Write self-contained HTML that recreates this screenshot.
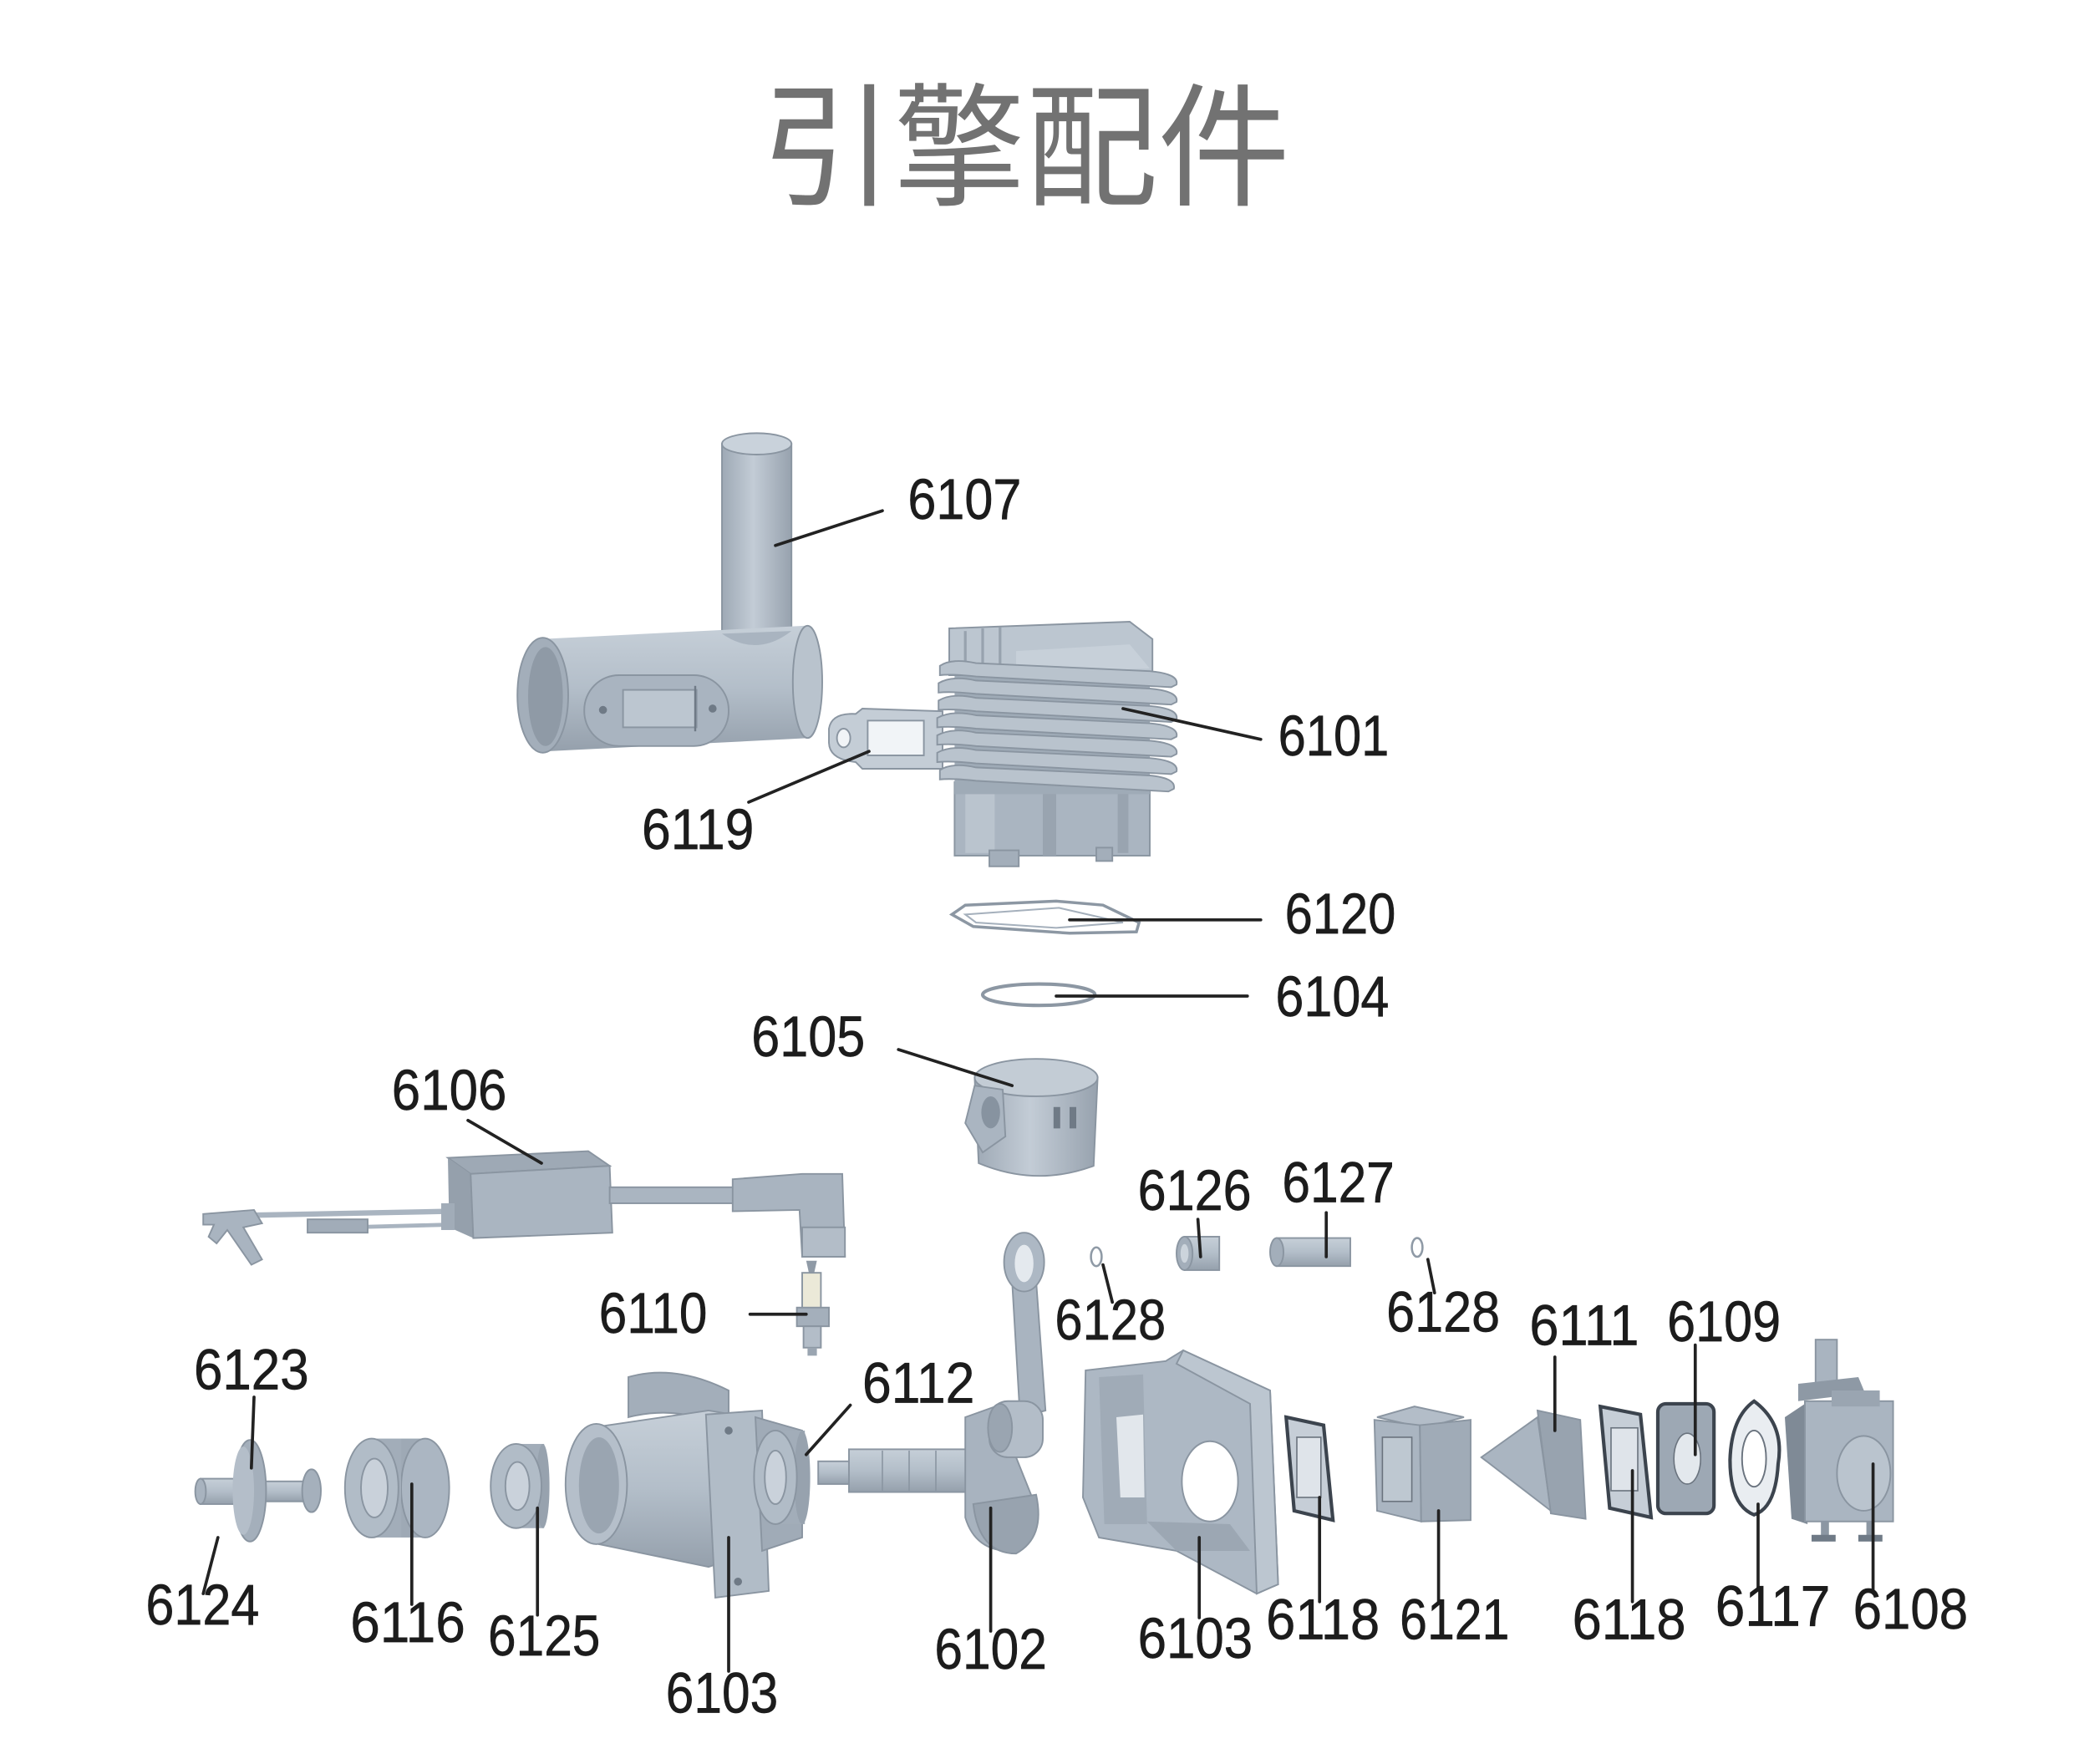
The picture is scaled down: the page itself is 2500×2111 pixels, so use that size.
<!DOCTYPE html>
<html><head><meta charset="utf-8"><style>
html,body{margin:0;padding:0;background:#fff;}
svg{display:block;}
.l{font-family:"Liberation Sans",Arial,sans-serif;font-size:43px;fill:#1c1c1c;stroke:#1c1c1c;stroke-width:0.4;}
.ld{stroke:#222;stroke-width:2.3;fill:none;stroke-linecap:round;}
.o{stroke:#8a95a1;stroke-width:1.2;}
.g{stroke:#3c444e;stroke-width:2.6;}
</style></head><body>
<svg width="2500" height="2111" viewBox="0 0 1562.5 1319.4" xmlns="http://www.w3.org/2000/svg">
<defs>
<linearGradient id="cv" x1="0" y1="0" x2="1" y2="0"><stop offset="0" stop-color="#9ea9b5"/><stop offset="0.45" stop-color="#c3ccd6"/><stop offset="1" stop-color="#97a2ae"/></linearGradient>
<linearGradient id="ch" x1="0" y1="0" x2="0" y2="1"><stop offset="0" stop-color="#c6cfd8"/><stop offset="0.5" stop-color="#b3bec9"/><stop offset="1" stop-color="#95a0ac"/></linearGradient>
</defs>
<rect width="1562.5" height="1319.4" fill="#fff"/>

<!-- Title -->
<text x="767" y="146" text-anchor="middle" font-family="'Liberation Sans','Noto Sans CJK SC','Noto Sans CJK TC',sans-serif" font-size="100" fill="#727272" textLength="396" lengthAdjust="spacingAndGlyphs">引擎配件</text>

<!-- 6107 muffler -->
<rect x="540" y="332" width="52" height="150" fill="url(#cv)" class="o"/>
<ellipse cx="566" cy="332" rx="26" ry="8" fill="#c9d2db" class="o"/>
<path d="M405,478 L603,468 L606,552 L408,562 Z" fill="url(#ch)"/>
<ellipse cx="604" cy="510" rx="11" ry="42" fill="#b9c3cd" class="o"/>
<path d="M540,474 Q566,492 592,472" fill="#a9b4c0"/>
<ellipse cx="406" cy="520" rx="19" ry="43" fill="#a3aeba" class="o"/>
<ellipse cx="408" cy="521" rx="13" ry="37" fill="#8f9aa6"/>
<rect x="437" y="505" width="108" height="53" rx="26" fill="#a9b4c0" class="o"/>
<rect x="466" y="516" width="55" height="28" fill="#bcc6d0" class="o"/>
<line x1="520" y1="513" x2="520" y2="547" stroke="#6f7a86" stroke-width="1.5"/>
<circle cx="451" cy="531" r="3" fill="#6f7a86"/><circle cx="533" cy="530" r="3" fill="#6f7a86"/>

<!-- 6119 gasket -->
<path d="M620,545 Q622,533 640,534 L645,530 L705,532 L705,575 L645,575 L640,570 Q620,568 620,555 Z" fill="#c4cdd6" class="o"/>
<rect x="649" y="539" width="42" height="26" fill="#f1f4f7" class="o"/>
<ellipse cx="631" cy="552" rx="5" ry="7" fill="#f1f4f7" class="o"/>

<!-- 6101 cylinder -->
<rect x="714" y="585" width="146" height="55" fill="#aab5c1" class="o"/>
<rect x="722" y="590" width="22" height="48" fill="#bac4ce"/>
<rect x="780" y="590" width="10" height="50" fill="#99a4b0"/>
<rect x="836" y="590" width="8" height="48" fill="#99a4b0"/>
<rect x="740" y="636" width="22" height="12" fill="#a3aeba" class="o"/>
<rect x="820" y="634" width="12" height="10" fill="#a3aeba" class="o"/>
<rect x="714" y="494" width="146" height="100" fill="#9fabb7"/>
<path d="M710,470 L845,465 L862,478 L862,505 L710,505 Z" fill="#bcc6d0" class="o"/>
<path d="M760,487 L845,482 L860,500 L760,503 Z" fill="#c7d0d9"/>
<line x1="722" y1="472" x2="722" y2="500" stroke="#97a2ae" stroke-width="2"/>
<line x1="735" y1="470" x2="735" y2="500" stroke="#97a2ae" stroke-width="2"/>
<line x1="748" y1="469" x2="748" y2="500" stroke="#97a2ae" stroke-width="2"/>
<g fill="#b9c3cd" class="o">
<path d="M703,498 Q712,492 730,496 L860,502 Q882,504 880,512 L876,514 L730,506 Q712,504 703,505 Z"/>
<path d="M702,511 Q712,505 730,509 L860,515 Q882,517 880,525 L876,527 L730,519 Q712,517 702,518 Z"/>
<path d="M702,524 Q712,518 730,522 L860,528 Q882,530 880,538 L876,540 L730,532 Q712,530 702,531 Z"/>
<path d="M701,537 Q712,531 730,535 L860,541 Q882,543 880,551 L876,553 L730,545 Q712,543 701,544 Z"/>
<path d="M701,550 Q712,544 730,548 L860,554 Q882,556 880,564 L876,566 L730,558 Q712,556 701,557 Z"/>
<path d="M701,563 Q712,557 730,561 L860,567 Q882,569 880,577 L876,579 L730,571 Q712,569 701,570 Z"/>
<path d="M703,576 Q712,570 730,574 L860,580 Q880,582 878,590 L874,592 L730,584 Q712,582 703,583 Z"/>
</g>

<!-- 6120 gasket -->
<path d="M712,684 L722,677 L790,674 L825,677 L852,690 L850,697 L800,698 L728,693 Z" fill="none" stroke="#8c97a3" stroke-width="2.2"/>
<path d="M722,684 L792,679 L840,690 L790,694 L730,690 Z" fill="none" stroke="#a5b0bc" stroke-width="1.3"/>

<!-- 6104 ring -->
<ellipse cx="777" cy="744" rx="42" ry="8" fill="none" stroke="#8c97a3" stroke-width="2.6"/>

<!-- 6105 piston -->
<path d="M729,806 L732,870 Q775,888 818,872 L821,806 Z" fill="url(#cv)" class="o"/>
<ellipse cx="775" cy="806" rx="46" ry="14" fill="#c3ccd5" class="o"/>
<path d="M729,812 L722,840 L735,862 L752,850 L750,815 Z" fill="#aab5c1" class="o"/>
<ellipse cx="741" cy="832" rx="7" ry="12" fill="#8793a0"/>
<rect x="788" y="828" width="5" height="16" fill="#6f7a86"/><rect x="800" y="828" width="5" height="16" fill="#6f7a86"/>

<!-- 6106 ignition -->
<path d="M335,866 L440,861 L456,872 L352,878 Z" fill="#9ea9b5" class="o"/>
<path d="M335,866 L352,878 L354,926 L336,918 Z" fill="#95a0ac"/>
<path d="M352,878 L456,872 L458,922 L354,926 Z" fill="#aab5c1" class="o"/>
<rect x="456" y="888" width="100" height="12" fill="#aab5c1" class="o"/>
<path d="M548,882 L600,878 L630,878 L632,940 L600,940 L598,905 L548,906 Z" fill="#a9b4c0" class="o"/>
<rect x="600" y="918" width="32" height="22" fill="#b3bdc8" class="o"/>
<line x1="336" y1="906" x2="185" y2="909" stroke="#a9b4c0" stroke-width="4"/>
<line x1="336" y1="916" x2="260" y2="918" stroke="#a9b4c0" stroke-width="3"/>
<rect x="230" y="912" width="45" height="10" fill="#a1acb8" class="o"/>
<rect x="330" y="900" width="10" height="20" fill="#a1acb8"/>
<path d="M152,908 L190,905 L196,915 L182,918 L196,942 L188,946 L170,920 L162,930 L156,925 L160,916 L152,916 Z" fill="#a9b4c0" class="o"/>

<!-- 6110 spark plug -->
<path d="M603,943 L611,943 L609,952 L605,952 Z" fill="#8f9aa6"/>
<rect x="600" y="952" width="14" height="27" fill="#ebe9d8" class="o"/>
<rect x="596" y="978" width="24" height="14" fill="#a4afbb" class="o"/>
<rect x="601" y="992" width="13" height="16" fill="#b3bdc8" class="o"/>
<rect x="604" y="1008" width="7" height="6" fill="#9aa5b1"/>

<!-- con rod -->
<path d="M757,958 L775,958 L782,1055 L763,1060 Z" fill="#a9b4c0" class="o"/>
<ellipse cx="766" cy="944" rx="15" ry="22" fill="#adb8c4" class="o"/>
<ellipse cx="766" cy="945" rx="7" ry="14" fill="#e4e9ee"/>
<!-- crankshaft 6102 -->
<rect x="612" y="1093" width="25" height="17" fill="url(#ch)" class="o"/>
<rect x="635" y="1084" width="90" height="32" fill="url(#ch)" class="o"/>
<line x1="660" y1="1085" x2="660" y2="1115" stroke="#8a95a1"/><line x1="680" y1="1085" x2="680" y2="1115" stroke="#8a95a1"/><line x1="700" y1="1085" x2="700" y2="1115" stroke="#8a95a1"/>
<path d="M722,1060 L750,1050 L760,1090 L772,1120 Q782,1150 760,1160 Q730,1162 722,1135 Z" fill="#a8b3bf" class="o"/>
<path d="M728,1125 L775,1118 Q782,1150 760,1162 Q732,1162 728,1125 Z" fill="#98a3af" class="o"/>
<rect x="740" y="1048" width="40" height="42" rx="14" fill="#b3bdc8" class="o"/>
<ellipse cx="748" cy="1068" rx="9" ry="18" fill="#9aa5b1" class="o"/>

<!-- clips, bearing, pin -->
<ellipse cx="820" cy="940" rx="4" ry="7" fill="none" stroke="#8f9aa6" stroke-width="1.6"/>
<ellipse cx="1060" cy="933" rx="4" ry="7" fill="none" stroke="#8f9aa6" stroke-width="1.6"/>
<rect x="886" y="925" width="26" height="25" fill="url(#ch)" class="o"/>
<ellipse cx="886" cy="937.5" rx="6" ry="12.5" fill="#a3aeba" class="o"/>
<ellipse cx="886" cy="937.5" rx="3" ry="7" fill="#ccd4dc"/>
<rect x="955" y="926" width="55" height="21" fill="url(#ch)" class="o"/>
<ellipse cx="955" cy="936.5" rx="5" ry="10.5" fill="#a3aeba" class="o"/>

<!-- 6123/6124 hub -->
<rect x="150" y="1106" width="35" height="19" fill="url(#ch)" class="o"/>
<ellipse cx="150" cy="1115.5" rx="4" ry="9.5" fill="#a8b3bf" class="o"/>
<rect x="190" y="1108" width="42" height="15" fill="url(#ch)" class="o"/>
<ellipse cx="233" cy="1115" rx="7" ry="16" fill="#a5b0bc" class="o"/>
<ellipse cx="187" cy="1115" rx="12" ry="38" fill="#a4afbb" class="o"/>
<ellipse cx="182" cy="1115" rx="8" ry="33" fill="#b4bec9"/>

<!-- 6116 -->
<rect x="300" y="1076" width="20" height="74" fill="#9ea9b5"/>
<ellipse cx="318" cy="1113" rx="18" ry="37" fill="#abb6c2" class="o"/>
<rect x="276" y="1076" width="24" height="74" fill="#a2adb9"/>
<ellipse cx="278" cy="1113" rx="20" ry="37" fill="#b1bcc7" class="o"/>
<ellipse cx="280" cy="1113" rx="10" ry="22" fill="#c9d1da" class="o"/>

<!-- 6125 -->
<rect x="385" y="1080" width="22" height="63" fill="#a2adb9"/>
<ellipse cx="406" cy="1111.5" rx="5" ry="31.5" fill="#97a2ae"/>
<ellipse cx="386" cy="1111.5" rx="19" ry="31.5" fill="#b1bcc7" class="o"/>
<ellipse cx="387" cy="1111.5" rx="9" ry="18" fill="#cad2db" class="o"/>

<!-- 6103 front crankcase -->
<path d="M470,1030 Q505,1020 545,1040 L545,1070 Q510,1050 470,1060 Z" fill="#a3aeba" class="o"/>
<path d="M448,1067 L530,1055 L560,1060 L565,1160 L530,1172 L448,1155 Z" fill="url(#ch)" class="o"/>
<ellipse cx="446" cy="1110" rx="23" ry="45" fill="#b5bfca" class="o"/>
<ellipse cx="448" cy="1111" rx="15" ry="36" fill="#9aa5b1"/>
<path d="M528,1058 L570,1055 L575,1190 L535,1195 Z" fill="#b1bcc7" class="o"/>
<path d="M565,1060 L600,1070 L600,1150 L570,1160 Z" fill="#a0abb7" class="o"/>
<circle cx="545" cy="1070" r="3" fill="#6f7a86"/><circle cx="552" cy="1183" r="3" fill="#6f7a86"/>

<!-- 6112 bearing -->
<rect x="578" y="1070" width="24" height="70" fill="#a2adb9"/>
<ellipse cx="600" cy="1105" rx="6" ry="35" fill="#97a2ae"/>
<ellipse cx="580" cy="1105" rx="16" ry="35" fill="#b1bcc7" class="o"/>
<ellipse cx="580" cy="1105" rx="8" ry="20" fill="#cad2db" class="o"/>

<!-- 6103 rear crankcase -->
<path d="M812,1025 L872,1018 L885,1010 L950,1040 L956,1185 L940,1192 L880,1160 L822,1150 L810,1120 Z" fill="#adb8c4" class="o"/>
<path d="M885,1010 L950,1040 L956,1185 L940,1192 L935,1050 L880,1020 Z" fill="#bcc6d0" class="o"/>
<path d="M822,1030 L855,1028 L858,1140 L826,1140 Z" fill="#a0abb7"/>
<path d="M835,1060 L855,1058 L856,1120 L838,1120 Z" fill="#e2e7ec"/>
<ellipse cx="905" cy="1108" rx="21" ry="30" fill="#fff" class="o"/>
<path d="M858,1138 L920,1140 L935,1160 L880,1160 Z" fill="#9ca7b3"/>

<!-- 6118 gaskets -->
<path d="M962,1060 L990,1066 L997,1137 L968,1130 Z" fill="#c6ced7" class="g"/>
<rect x="970" y="1075" width="18" height="45" fill="#dfe4ea" stroke="#6a737e" stroke-width="1"/>
<path d="M1197,1052 L1227,1058 L1235,1135 L1204,1128 Z" fill="#c6ced7" class="g"/>
<rect x="1205" y="1068" width="20" height="47" fill="#dfe4ea" stroke="#6a737e" stroke-width="1"/>

<!-- 6121 -->
<path d="M1030,1060 L1058,1052 L1095,1060 L1065,1068 Z" fill="#b3bdc8" class="o"/>
<path d="M1028,1062 L1062,1066 L1063,1138 L1030,1130 Z" fill="#aab5c1" class="o"/>
<path d="M1062,1066 L1100,1062 L1100,1137 L1063,1138 Z" fill="#a0abb7" class="o"/>
<rect x="1034" y="1075" width="22" height="48" fill="#bec8d1" stroke="#6a737e" stroke-width="1"/>

<!-- 6111 reed -->
<path d="M1108,1090 L1150,1060 L1160,1130 Z" fill="#aab5c1" class="o"/>
<path d="M1150,1055 L1182,1062 L1186,1136 L1160,1132 Z" fill="#98a3af" class="o"/>

<!-- 6109 -->
<rect x="1240" y="1050" width="42" height="82" rx="6" fill="#9da8b4" class="g"/>
<ellipse cx="1262" cy="1091" rx="10" ry="19" fill="#e3e8ed" stroke="#6a737e"/>

<!-- 6117 -->
<path d="M1312,1048 Q1335,1065 1330,1095 Q1328,1128 1312,1133 Q1294,1126 1294,1092 Q1295,1060 1312,1048 Z" fill="#e9edf1" class="g"/>
<ellipse cx="1312" cy="1091" rx="9" ry="21" fill="#fff" stroke="#6a737e" stroke-width="1.2"/>

<!-- 6108 carb -->
<rect x="1358" y="1002" width="16" height="35" fill="#a9b4c0" class="o"/>
<path d="M1345,1035 L1390,1030 L1395,1042 L1345,1048 Z" fill="#8e99a5"/>
<path d="M1335,1060 L1350,1050 L1352,1140 L1340,1136 Z" fill="#7f8a96"/>
<rect x="1350" y="1048" width="66" height="90" fill="#aab5c1" class="o"/>
<rect x="1370" y="1040" width="36" height="12" fill="#9aa5b1"/>
<ellipse cx="1394" cy="1102" rx="20" ry="28" fill="#bac4ce" class="o"/>
<rect x="1362" y="1138" width="6" height="12" fill="#8c97a3"/><rect x="1396" y="1138" width="6" height="12" fill="#8c97a3"/>
<rect x="1355" y="1148" width="18" height="5" fill="#6f7a86"/><rect x="1390" y="1148" width="18" height="5" fill="#6f7a86"/>

<!-- leader lines -->
<g class="ld">
<line x1="660" y1="382" x2="580" y2="408"/>
<line x1="943" y1="553" x2="840" y2="530"/>
<line x1="560" y1="600" x2="650" y2="562"/>
<line x1="943" y1="688" x2="800" y2="688"/>
<line x1="933" y1="745" x2="790" y2="745"/>
<line x1="672" y1="785" x2="757" y2="812"/>
<line x1="350" y1="838" x2="405" y2="870"/>
<line x1="896" y1="912" x2="898" y2="940"/>
<line x1="992" y1="907" x2="992" y2="940"/>
<line x1="832" y1="974" x2="825" y2="946"/>
<line x1="1073" y1="967" x2="1068" y2="942"/>
<line x1="561" y1="983" x2="603" y2="983"/>
<line x1="1163" y1="1015" x2="1163" y2="1070"/>
<line x1="1268" y1="1006" x2="1268" y2="1088"/>
<line x1="190" y1="1045" x2="188" y2="1098"/>
<line x1="636" y1="1051" x2="603" y2="1088"/>
<line x1="163" y1="1150" x2="152" y2="1192"/>
<line x1="308" y1="1110" x2="308" y2="1200"/>
<line x1="402" y1="1128" x2="402" y2="1208"/>
<line x1="545" y1="1150" x2="545" y2="1250"/>
<line x1="741" y1="1128" x2="741" y2="1220"/>
<line x1="897" y1="1150" x2="897" y2="1210"/>
<line x1="987" y1="1120" x2="987" y2="1198"/>
<line x1="1076" y1="1130" x2="1076" y2="1198"/>
<line x1="1221" y1="1100" x2="1221" y2="1198"/>
<line x1="1315" y1="1125" x2="1315" y2="1188"/>
<line x1="1401" y1="1095" x2="1401" y2="1190"/>
</g>

<!-- labels -->
<g class="l">
<text x="679" y="388" textLength="85" lengthAdjust="spacingAndGlyphs">6107</text>
<text x="956" y="565" textLength="83" lengthAdjust="spacingAndGlyphs">6101</text>
<text x="480" y="635" textLength="84" lengthAdjust="spacingAndGlyphs">6119</text>
<text x="961" y="698" textLength="83" lengthAdjust="spacingAndGlyphs">6120</text>
<text x="954" y="760" textLength="85" lengthAdjust="spacingAndGlyphs">6104</text>
<text x="562" y="790" textLength="85" lengthAdjust="spacingAndGlyphs">6105</text>
<text x="293" y="830" textLength="86" lengthAdjust="spacingAndGlyphs">6106</text>
<text x="851" y="905" textLength="85" lengthAdjust="spacingAndGlyphs">6126</text>
<text x="959" y="899" textLength="84" lengthAdjust="spacingAndGlyphs">6127</text>
<text x="448" y="997" textLength="81" lengthAdjust="spacingAndGlyphs">6110</text>
<text x="789" y="1002" textLength="83" lengthAdjust="spacingAndGlyphs">6128</text>
<text x="1037" y="996" textLength="85" lengthAdjust="spacingAndGlyphs">6128</text>
<text x="1144" y="1006" textLength="82" lengthAdjust="spacingAndGlyphs">6111</text>
<text x="1247" y="1003" textLength="85" lengthAdjust="spacingAndGlyphs">6109</text>
<text x="145" y="1039" textLength="86" lengthAdjust="spacingAndGlyphs">6123</text>
<text x="645" y="1049" textLength="84" lengthAdjust="spacingAndGlyphs">6112</text>
<text x="109" y="1215" textLength="85" lengthAdjust="spacingAndGlyphs">6124</text>
<text x="262" y="1228" textLength="86" lengthAdjust="spacingAndGlyphs">6116</text>
<text x="365" y="1238" textLength="84" lengthAdjust="spacingAndGlyphs">6125</text>
<text x="498" y="1281" textLength="84" lengthAdjust="spacingAndGlyphs">6103</text>
<text x="699" y="1248" textLength="84" lengthAdjust="spacingAndGlyphs">6102</text>
<text x="851" y="1240" textLength="86" lengthAdjust="spacingAndGlyphs">6103</text>
<text x="947" y="1226" textLength="85" lengthAdjust="spacingAndGlyphs">6118</text>
<text x="1047" y="1226" textLength="82" lengthAdjust="spacingAndGlyphs">6121</text>
<text x="1176" y="1226" textLength="85" lengthAdjust="spacingAndGlyphs">6118</text>
<text x="1283" y="1216" textLength="86" lengthAdjust="spacingAndGlyphs">6117</text>
<text x="1386" y="1218" textLength="86" lengthAdjust="spacingAndGlyphs">6108</text>
</g>
</svg>
</body></html>
